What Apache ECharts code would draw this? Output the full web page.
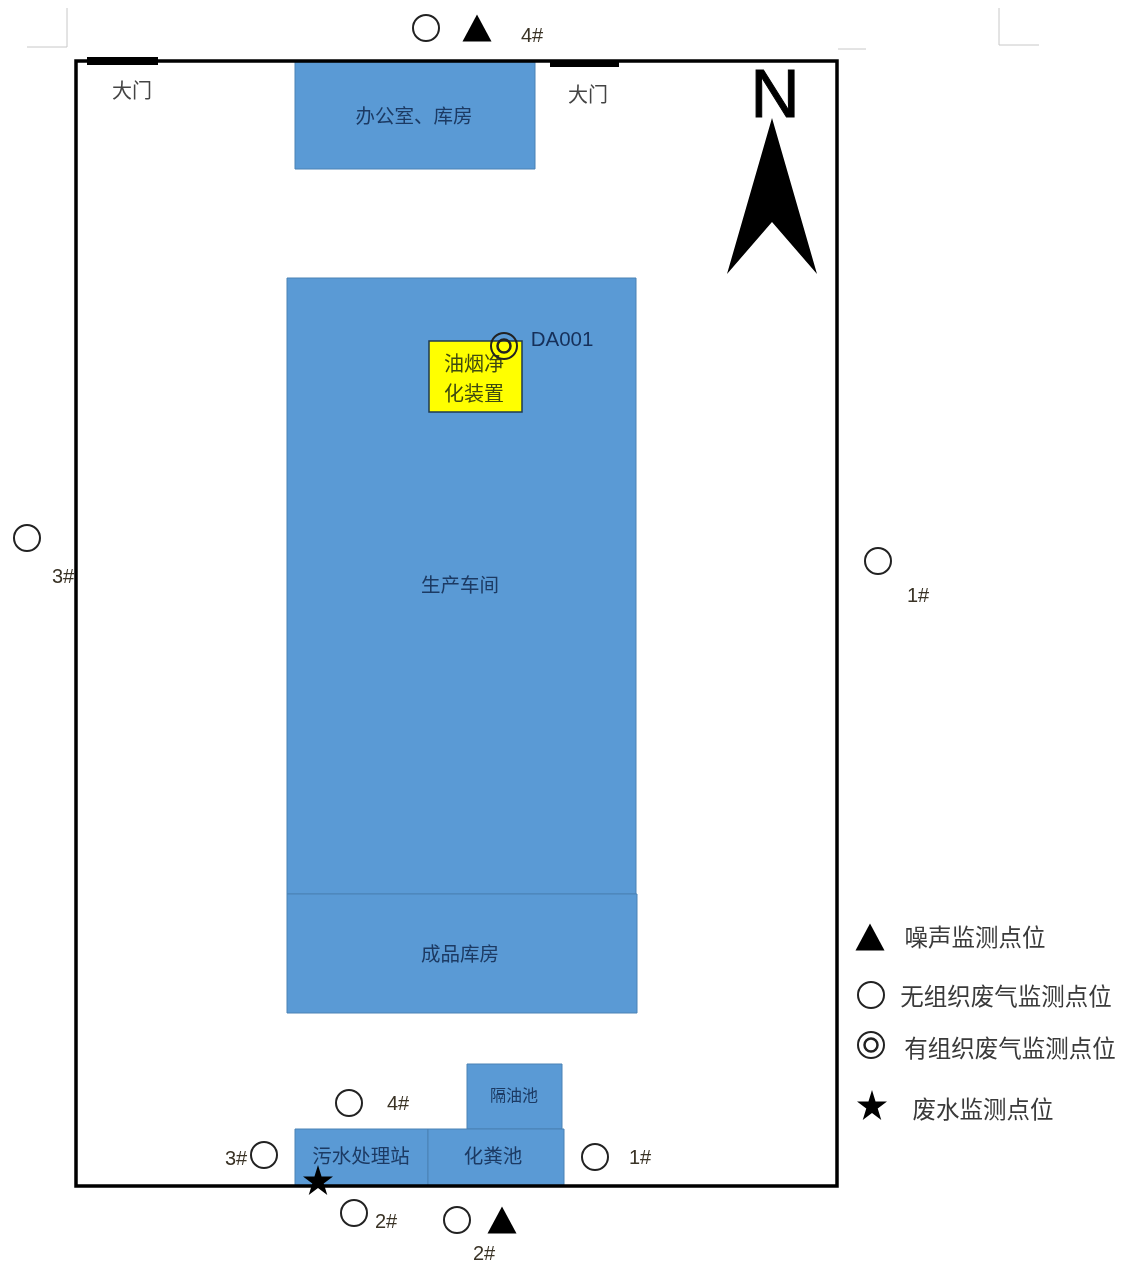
<!DOCTYPE html>
<html><head><meta charset="utf-8">
<style>html,body{margin:0;padding:0;background:#fff}#c{width:1124px;height:1267px}</style>
<script src="https://cdn.jsdelivr.net/npm/echarts@6/dist/echarts.min.js"></script>
</head><body><div id="c"></div>
<script>
// Site-plan data, in plan units (one unit = one picture pixel on the 1124x1267 plan)
const buildingNames = ['办公室、库房','生产车间','成品库房','隔油池','污水处理站','化粪池'];
const buildingLeft  = [295,287,287,467,295,428];
const buildingRight = [535,636,637,562,428,564];
const buildingTop   = [62,278,894,1064,1129,1129];
const buildingBottom= [169,894,1013,1129,1186,1186];
const buildingLabelX= [414,460,460,514,361,493];
const buildingLabelY= [116,585,954,1095,1156,1156];

const purifierBox = [429,522,341,412];
const purifierLines = [['油烟净',474,363],['化装置',474,393]];
const siteBoundary = [76,837,61,1186];
const gates = [[87,158,61],[550,619,64]];
const gateLabels = [['大门',132,90],['大门',588,94]];
const cropMarks = [[[67,8],[67,47],[27,47]],[[999,8],[999,45],[1039,45]],[[838,49],[866,49]]];
const northArrow = [[772,118],[817,274],[772,222],[727,274]];
const northLabel = ['N',775,98];

const noisePoints = [[477,28],[502,1220],[870,937]];
const fugitivePoints = [[426,28],[878,561],[27,538],[595,1157],[349,1103],[264,1155],[354,1213],[457,1220],[871,995]];
const stackPoints = [[504,346],[871,1045]];
const wastewaterPoints = [[318,1180],[872,1105]];

const pointLabels = [['4#',532,36],['1#',918,596],['3#',63,577],['1#',640,1158],['4#',398,1104],['3#',236,1159],['2#',386,1222],['2#',484,1254]];
const stackLabel = ['DA001',562,340];
const legendLabels = [['噪声监测点位',975,937],['无组织废气监测点位',1006,996],['有组织废气监测点位',1010,1048],['废水监测点位',983,1109]];

const gateThickness = [8, 6];
const CJK = '"Noto Sans CJK SC","Noto Sans",sans-serif';
const LAT = '"Liberation Sans",Arial,sans-serif';
const starPath = 'path://M50 0 L61.8 36.3 L100 36.3 L69.1 58.8 L80.9 95.1 L50 72.6 L19.1 95.1 L30.9 58.8 L0 36.3 L38.2 36.3 Z';

function rectShape(api, x0, x1, y0, y1) {
  const a = api.coord([x0, y0]), b = api.coord([x1, y1]);
  return {x: a[0], y: a[1], width: b[0]-a[0], height: b[1]-a[1]};
}
function textSeries(rows, font, size, fill, z, outline) {
  return {
    type: 'custom', coordinateSystem: 'cartesian2d', z, silent: true,
    data: rows.map(r => [r[1], r[2], r[0]]),
    encode: {x: 0, y: 1},
    renderItem(p, api) {
      const c = api.coord([api.value(0), api.value(1)]);
      const style = {
        text: rows[p.dataIndex][0], x: c[0], y: c[1], align: 'center', verticalAlign: 'middle',
        fill, font: size + ' ' + font };
      if (outline) { style.stroke = fill; style.lineWidth = outline; }
      return {type: 'text', style};
    }
  };
}
function marker(data, symbol, size, fill, stroke, sw, z) {
  return {type: 'scatter', data, symbol, symbolSize: size, z, silent: true,
    itemStyle: {color: fill, borderColor: stroke, borderWidth: sw, opacity: 1}};
}

const chart = echarts.init(document.getElementById('c'), null, {renderer: 'canvas'});
chart.setOption({
  animation: false,
  backgroundColor: '#fff',
  tooltip: {show: false},
  grid: {left: 0, right: 0, top: 0, bottom: 0},
  xAxis: {type: 'value', min: 0, max: 1124, show: false},
  yAxis: {type: 'value', min: 0, max: 1267, inverse: true, show: false},
  series: [
    { // crop marks
      type: 'custom', z: 1, silent: true,
      data: cropMarks.map((m, i) => [m[0][0], m[0][1], i]), encode: {x: 0, y: 1},
      renderItem(p, api) {
        return {type: 'polyline', shape: {points: cropMarks[p.dataIndex].map(q => api.coord(q))},
          style: {fill: null, stroke: '#c8c8c8', lineWidth: 1}};
      }
    },
    { // buildings
      type: 'custom', z: 2, silent: true,
      data: buildingNames.map((n, i) => [buildingLeft[i], buildingTop[i], buildingRight[i], buildingBottom[i]]),
      encode: {x: [0, 2], y: [1, 3]},
      renderItem(p, api) {
        return {type: 'rect', shape: rectShape(api, api.value(0), api.value(2), api.value(1), api.value(3)),
          style: {fill: '#5a9ad5', stroke: '#4a82b5', lineWidth: 1}};
      }
    },
    { // purifier
      type: 'custom', z: 3, silent: true,
      data: [purifierBox], encode: {x: [0, 1], y: [2, 3]},
      renderItem(p, api) {
        return {type: 'rect', shape: rectShape(api, api.value(0), api.value(1), api.value(2), api.value(3)),
          style: {fill: '#ffff00', stroke: '#1f3a50', lineWidth: 1.5}};
      }
    },
    { // site boundary
      type: 'custom', z: 4, silent: true,
      data: [siteBoundary], encode: {x: [0, 1], y: [2, 3]},
      renderItem(p, api) {
        return {type: 'rect', shape: rectShape(api, api.value(0), api.value(1), api.value(2), api.value(3)),
          style: {fill: null, stroke: '#000', lineWidth: 3.5}};
      }
    },
    { // gates
      type: 'custom', z: 5, silent: true,
      data: gates, encode: {x: [0, 1], y: 2},
      renderItem(p, api) {
        const a = api.coord([api.value(0), api.value(2)]), b = api.coord([api.value(1), api.value(2)]);
        return {type: 'line', shape: {x1: a[0], y1: a[1], x2: b[0], y2: b[1]},
          style: {stroke: '#000', lineWidth: gateThickness[p.dataIndex]}};
      }
    },
    { // north arrow
      type: 'custom', z: 5, silent: true,
      data: northArrow, encode: {x: 0, y: 1},
      renderItem(p, api) {
        if (p.dataIndex) return null;
        return {type: 'polygon', shape: {points: northArrow.map(q => api.coord(q))}, style: {fill: '#000'}};
      }
    },
    textSeries([northLabel], LAT, '68px', '#000', 6, 1),
    textSeries(buildingNames.map((n, i) => [n, buildingLabelX[i], buildingLabelY[i]]).filter(r => r[0] !== '隔油池'), CJK, '19.5px', '#1c3a63', 6),
    textSeries([['隔油池', buildingLabelX[3], buildingLabelY[3]]], CJK, '16px', '#1c3a63', 6),
    textSeries(purifierLines, CJK, '20px', '#3f4a10', 6),
    textSeries(gateLabels, CJK, '20px', '#444', 6),
    textSeries(pointLabels, LAT, '20px', '#3a3326', 6),
    textSeries([stackLabel], LAT, '20.5px', '#16305a', 6),
    textSeries(legendLabels, CJK, '23.5px', '#3a3a3a', 6),
    marker(noisePoints, 'triangle', [29, 27], '#000', '#000', 0, 7),
    marker(fugitivePoints, 'circle', 26, 'rgba(255,255,255,0)', '#222', 2, 7),
    marker(stackPoints, 'circle', 26, 'rgba(255,255,255,0)', '#222', 2, 7),
    marker(stackPoints, 'circle', 13, 'rgba(255,255,255,0)', '#222', 2.5, 7),
    marker(wastewaterPoints, starPath, 30, '#000', '#000', 0, 8)
  ]
});
</script></body></html>
